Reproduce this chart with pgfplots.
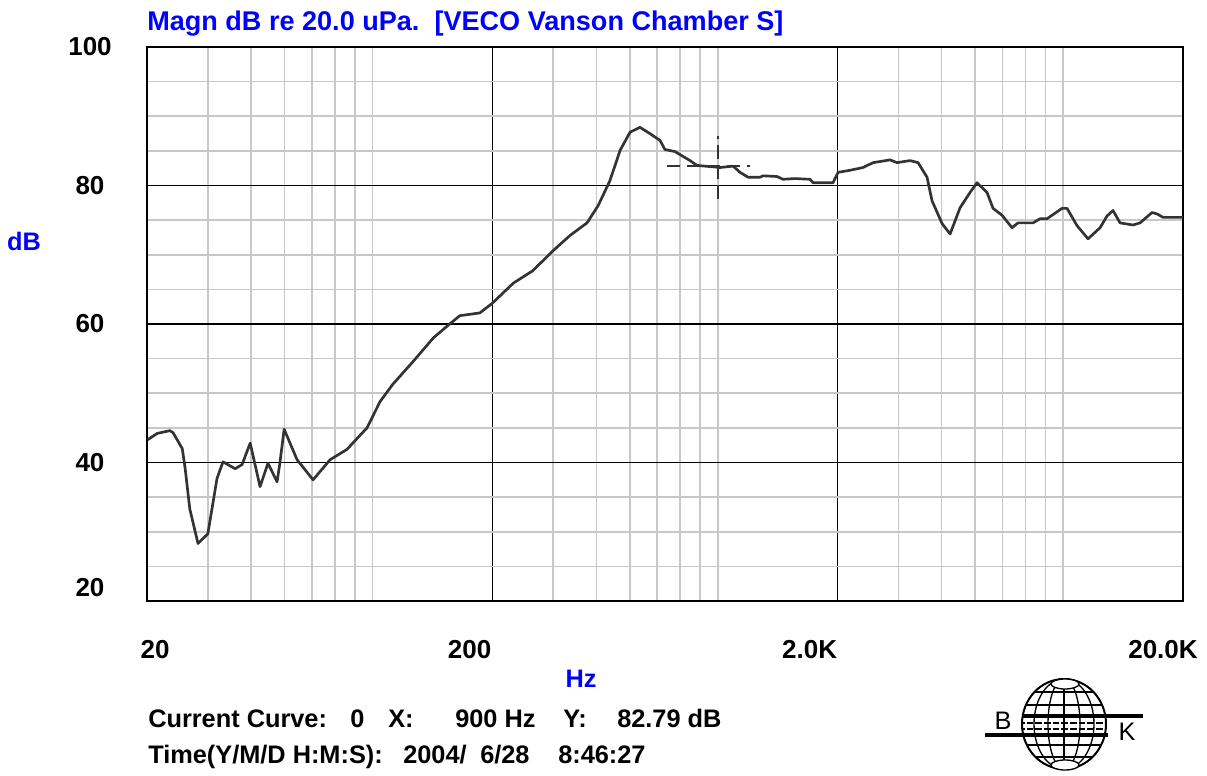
\documentclass[border=0pt]{standalone}
\usepackage{fontspec}
\setmainfont{Liberation Sans}
\usepackage{pgfplots}
\pgfplotsset{compat=1.18}
\definecolor{vblue}{RGB}{0,0,255}
\definecolor{curvec}{RGB}{51,51,51}
\definecolor{mgrid}{RGB}{200,200,200}
\begin{document}
\begin{tikzpicture}
\begin{axis}[
  scale only axis, width=777pt, height=415.5pt,
  xmode=log, xmin=20, xmax=20000, ymin=20, ymax=100,
  xtick={20,200,2000,20000},
  xticklabels={{\hspace*{12pt}20},{200\hspace*{34pt}},{2.0K\hspace*{42pt}},{20.0K\hspace*{30pt}}},
  minor xtick={30,40,50,60,70,80,90,300,400,500,600,700,800,900,3000,4000,5000,6000,7000,8000,9000},
  ytick={40,60,80,100},
  extra y ticks={20},
  extra y tick style={yticklabel style={yshift=10pt}},
  minor ytick={25,30,35,45,50,55,65,70,75,85,90,95},
  grid=both,
  major grid style={black, line width=0.9pt},
  minor grid style={mgrid, line width=1.2pt},
  major tick length=0pt, minor tick length=0pt,
  axis line style={black, line width=1.5pt},
  /pgf/number format/assume math mode=true,
  tick label style={font=\fontsize{19.5}{22}\selectfont\bfseries},
  xticklabel style={anchor=center, yshift=-36.75pt},
  yticklabel style={anchor=center, xshift=-42.75pt},
]
\addplot[curvec, line width=2pt, line join=round] coordinates {
(20.1,43.3) (21.4,44.2) (23.3,44.6) (23.8,44.3) (25.3,42.0) (25.8,39.1) (26.6,33.3) (28.1,28.3)
(30.0,29.7) (31.9,37.7) (33.2,40.1) (36.0,39.1) (37.7,39.7) (39.8,42.8) (42.5,36.5) (44.8,39.9)
(47.6,37.2) (48.5,39.9) (49.9,44.8) (54.4,40.4) (60.5,37.5) (67.8,40.4) (75.9,41.9) (86.7,45.0)
(94.6,48.8) (103,51.3) (118,54.6) (135,58.0) (148,59.7) (161,61.2) (184,61.6) (200,63.0)
(230,65.9) (262,67.7) (300,70.6) (336,72.8) (376,74.6) (405,77.1) (438,80.7) (469,85.1)
(501,87.7) (535,88.4) (572,87.5) (612,86.5) (632,85.2) (676,84.9) (747,83.6) (783,82.9)
(913,82.6) (996,82.8) (1043,81.9) (1100,81.2) (1192,81.2) (1216,81.4) (1335,81.3) (1389,80.9)
(1505,81.0) (1664,80.9) (1697,80.4) (1939,80.4) (2005,81.9) (2172,82.2) (2368,82.6) (2532,83.3)
(2836,83.7) (2971,83.3) (3240,83.6) (3418,83.3) (3629,81.2) (3752,77.8) (4012,74.5) (4232,73.0)
(4524,76.8) (4835,79.0) (5063,80.4) (5413,79.0) (5636,76.7) (5985,75.7) (6396,73.9) (6657,74.6)
(7358,74.6) (7708,75.2) (8076,75.2) (8927,76.7) (9229,76.7) (9866,74.2) (10616,72.3) (11502,73.9)
(12052,75.6) (12542,76.4) (13142,74.6) (14330,74.3) (15016,74.6) (16268,76.1) (16818,75.9) (17504,75.4)
(20000,75.4)
};
% cursor crosshair at 900 Hz, 82.79 dB
\addplot[curvec, line width=1.5pt, dash pattern=on 10pt off 5pt] coordinates {(900,78.1) (900,87.2)};
\addplot[curvec, line width=1.5pt, dash pattern=on 10pt off 5pt] coordinates {(640,82.79) (1112,82.79)};
\end{axis}
\begin{scope}[shift={(-110.25pt,450.75pt)},x=0.75pt,y=-0.75pt]
  \node[anchor=base west, text=vblue, inner sep=0pt, font=\fontsize{20.3}{24}\selectfont\bfseries] at (147,31) {Magn dB re 20.0 uPa.\ \ [VECO Vanson Chamber S]};
  \node[text=vblue, inner sep=0pt, font=\fontsize{19}{22}\selectfont\bfseries] at (24,241) {dB};
  \node[text=vblue, inner sep=0pt, font=\fontsize{19}{22}\selectfont\bfseries] at (581,679) {Hz};
  \begin{scope}[every node/.style={anchor=base west, inner sep=0pt, font=\fontsize{19}{22}\selectfont\bfseries}]
    \node at (148,727) {Current Curve:};
    \node at (350,727) {0};
    \node at (388,727) {X:};
    \node at (455,727) {900 Hz};
    \node at (563,727) {Y:};
    \node at (617,727) {82.79 dB};
    \node at (148,763) {Time(Y/M/D H:M:S):};
    \node at (403,763) {2004/};
    \node at (480,763) {6/28};
    \node at (558,763) {8:46:27};
  \end{scope}
  % B&K logo
  \begin{scope}
    \clip (1064,724) ellipse (42 and 45);
    \foreach \yy in {692,705,745,757} \draw[line width=1pt] (1018,\yy) -- (1110,\yy);
    \draw[line width=1.2pt, dash pattern=on 5pt off 1.5pt] (1018,723) -- (1110,723);
    \draw[line width=1.2pt, dash pattern=on 5pt off 1.5pt] (1018,729) -- (1110,729);
  \end{scope}
  \draw[line width=1.5pt] (1064,724) ellipse (42 and 45);
  \draw[line width=1pt] (1064,724) ellipse (30 and 45);
  \draw[line width=1pt] (1064,724) ellipse (16 and 45);
  \draw[line width=1pt] (1064,679) -- (1064,769);
  \draw[line width=1pt, fill=white] (1065,684) ellipse (14 and 5);
  \draw[line width=1pt, fill=white] (1065,765) ellipse (14 and 5);
  \draw[line width=3pt] (1022,716) -- (1143,716);
  \draw[line width=3pt] (985,735) -- (1108,735);
  \node[anchor=base, inner sep=0pt, font=\fontsize{19}{22}\selectfont] at (1003,729) {B};
  \node[anchor=base, inner sep=0pt, font=\fontsize{19}{22}\selectfont] at (1127,740) {K};
\end{scope}
\pgfresetboundingbox
\useasboundingbox (-110.25pt,-130.5pt) rectangle (795pt,450.75pt);
\end{tikzpicture}
\end{document}
